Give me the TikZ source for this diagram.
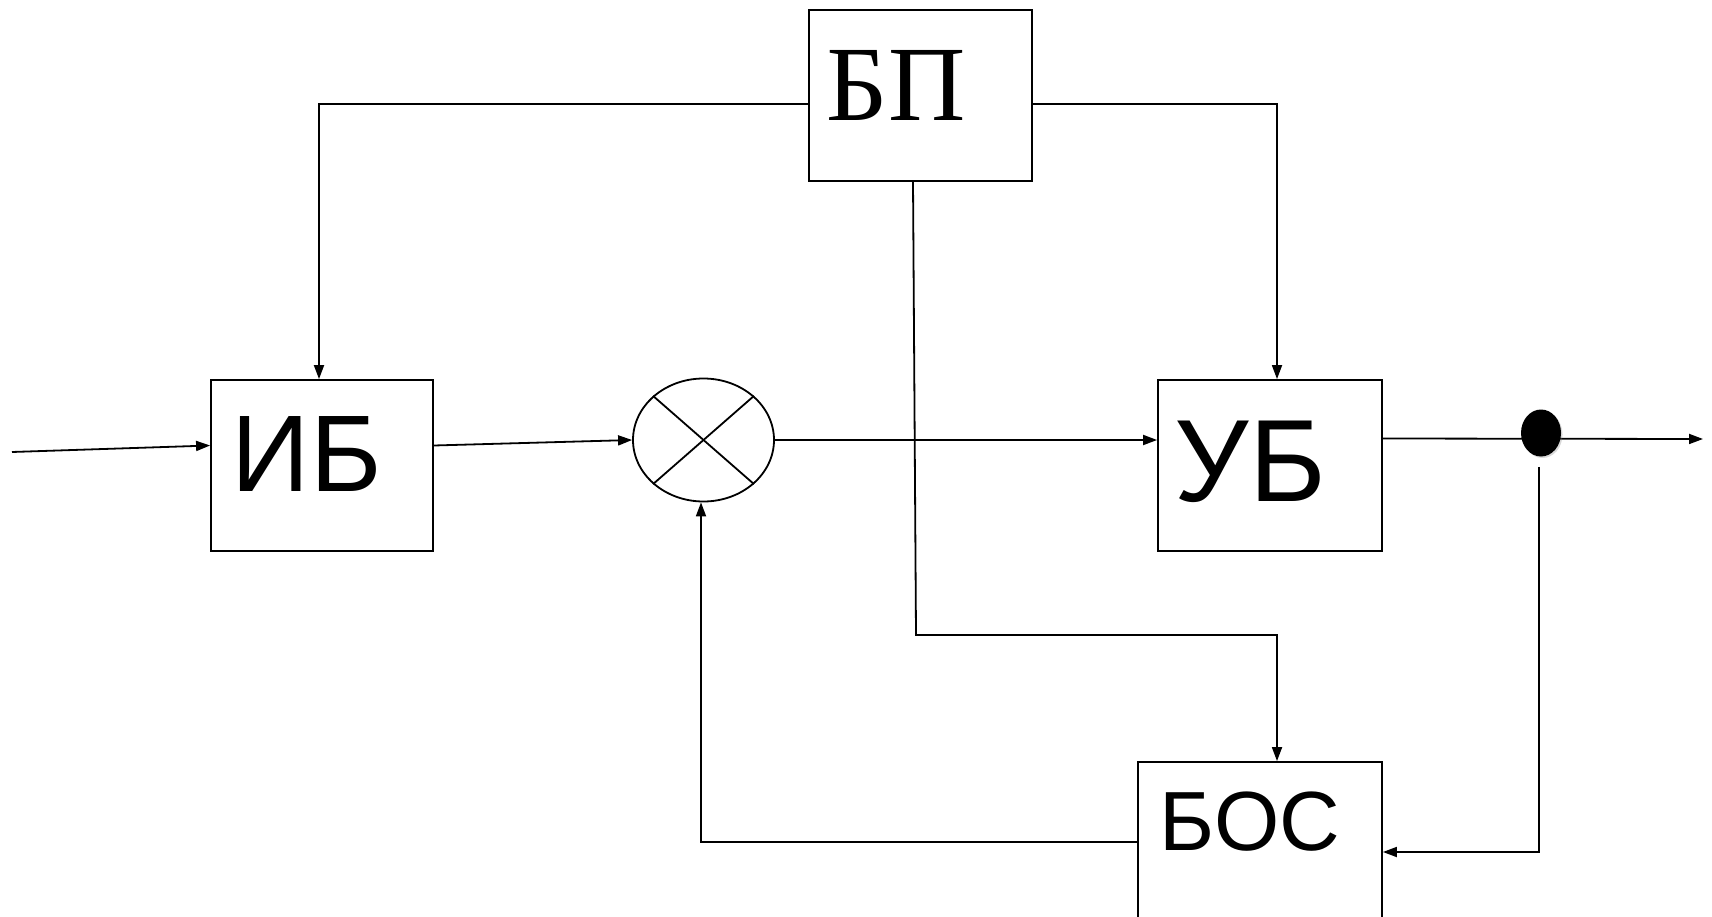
\documentclass[tikz,border=0pt]{standalone}
\usepackage{fontspec}
\setmainfont{Liberation Sans}
\newfontfamily\bpfont{Liberation Serif}
\usetikzlibrary{arrows.meta,calc,shapes.geometric,shadows}

\begin{document}
\begin{tikzpicture}[x=1pt,y=-1pt,line width=1.8pt,
    block/.style={draw,rectangle,inner sep=0pt,minimum height=171pt},
    arr/.style={-{Triangle[length=14pt,width=10pt]}},
    lbl/.style={inner sep=0pt,anchor=base west}]
    \useasboundingbox (0,0) rectangle (1712,917);
    % blocks
    \node[block,minimum width=223pt] (bp) at (920.5,95.5) {};
    \node[block,minimum width=222pt] (ib) at (322,465.5) {};
    \node[block,minimum width=224pt] (ub) at (1270,465.5) {};
    \node[block,minimum width=244pt,minimum height=180pt] (bos) at (1260,852) {};
    \node[draw,ellipse,minimum width=141pt,minimum height=123pt,inner sep=0pt] (sum) at (703.5,440) {};
    \draw (sum.north west) -- (sum.south east);
    \draw (sum.north east) -- (sum.south west);
    % texts
    \node[lbl] (bptext) at (826,121) {\bpfont\fontsize{107}{107}\selectfont БП};
    \node[lbl] (ibtext) at (231,491) {\fontsize{109}{109}\selectfont ИБ};
    \node[lbl] (ubtext) at (1174,501) {\fontsize{117}{117}\selectfont УБ};
    \node[lbl] (bostext) at (1159,850) {\fontsize{84}{84}\selectfont БОС};
    % signal path
    \coordinate (in) at (12,452);
    \coordinate (out) at (1703,439);
    \draw[arr] (in) -- ($(ib.west)+(0,-20)$);
    \draw[arr] ($(ib.east)+(0,-20)$) -- (sum.west);
    \draw[arr] (sum.east) -- (sum.east -| ub.west);
    \draw[arr] ($(ub.east)+(0,-27)$) -- (out);
    \node[fill,ellipse,minimum width=40pt,minimum height=47pt,inner sep=0pt,
      drop shadow={opacity=0.3,shadow xshift=1.5pt,shadow yshift=-1.5pt}] (tap) at (1541,433) {};
    % power lines
    \draw[arr] ($(bp.west)+(0,8.5)$) -| ($(ib.north)+(-3,0)$);
    \draw[arr] ($(bp.east)+(0,8.5)$) -| ($(ub.north)+(7,0)$);
    \coordinate (bpturn) at (916,635);
    \draw[arr] ($(bp.south)+(-7.5,0)$) -- (bpturn) -| ($(bos.north)+(17,0)$);
    % feedback
    \draw[arr] ($(tap.south)+(-2,9.5)$) |- (bos.east);
    \draw[arr] ($(bos.west)+(0,-10)$) -| ($(sum.south)+(-2.5,0)$);
\end{tikzpicture}
\end{document}
